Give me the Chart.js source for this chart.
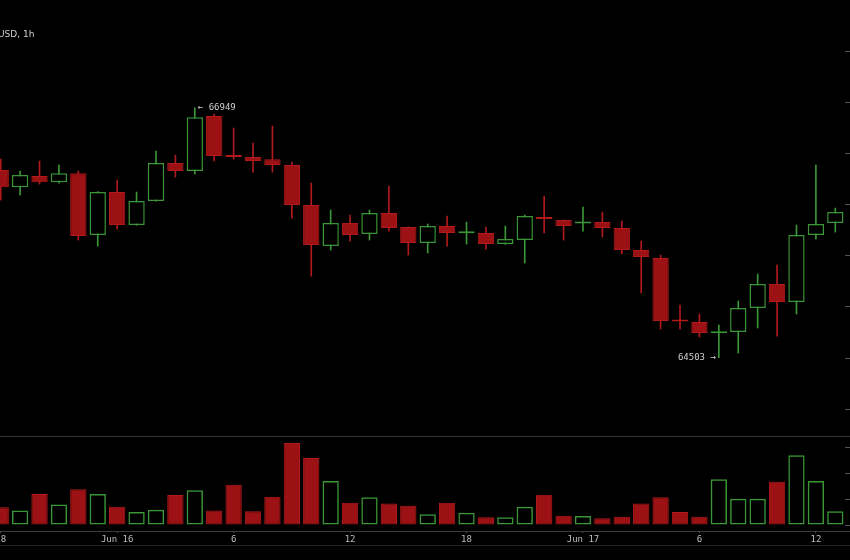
<!DOCTYPE html>
<html>
<head>
<meta charset="utf-8">
<script src="https://cdn.jsdelivr.net/npm/chart.js@4.4.1/dist/chart.umd.min.js"></script>
<style>
  html, body { margin: 0; padding: 0; background: #000; }
  #wrap { position: relative; width: 850px; height: 560px; overflow: hidden; background: #000; }
  #priceBox { position: absolute; left: -9px; top: 0; width: 910px; height: 436px; }
  #volBox { position: absolute; left: -9px; top: 436px; width: 910px; height: 124px; }
  #title { position: absolute; left: -2px; top: 29px; font: 9px/10px "DejaVu Sans", sans-serif; color: #cfcfcf; }
</style>
</head>
<body>
<div id="wrap">
  <div id="priceBox"><canvas id="priceChart"></canvas></div>
  <div id="volBox"><canvas id="volChart"></canvas></div>
  <div id="title">USD, 1h</div>
</div>
<script>
// hourly candles, Jun 15 18:00 -> Jun 17 13:00
const times = [
  'Jun 15 18:00', 'Jun 15 19:00', 'Jun 15 20:00', 'Jun 15 21:00', 'Jun 15 22:00', 'Jun 15 23:00',
  'Jun 16 00:00', 'Jun 16 01:00', 'Jun 16 02:00', 'Jun 16 03:00', 'Jun 16 04:00', 'Jun 16 05:00',
  'Jun 16 06:00', 'Jun 16 07:00', 'Jun 16 08:00', 'Jun 16 09:00', 'Jun 16 10:00', 'Jun 16 11:00',
  'Jun 16 12:00', 'Jun 16 13:00', 'Jun 16 14:00', 'Jun 16 15:00', 'Jun 16 16:00', 'Jun 16 17:00',
  'Jun 16 18:00', 'Jun 16 19:00', 'Jun 16 20:00', 'Jun 16 21:00', 'Jun 16 22:00', 'Jun 16 23:00',
  'Jun 17 00:00', 'Jun 17 01:00', 'Jun 17 02:00', 'Jun 17 03:00', 'Jun 17 04:00', 'Jun 17 05:00',
  'Jun 17 06:00', 'Jun 17 07:00', 'Jun 17 08:00', 'Jun 17 09:00', 'Jun 17 10:00', 'Jun 17 11:00',
  'Jun 17 12:00', 'Jun 17 13:00'
];

const open = [66339, 66172, 66280, 66221, 66309, 65703, 66124, 65801, 66036, 66407, 66329, 66867, 66479, 66466, 66446, 66388, 65996, 65595, 65820, 65713, 65918, 65781, 65625, 65791, 65720, 65723, 65615, 65654, 65879, 65850, 65817, 65830, 65772, 65556, 65478, 64862, 64852, 64742, 64754, 64989, 65224, 65048, 65703, 65820];
const high = [66446, 66329, 66427, 66388, 66329, 66128, 66241, 66124, 66525, 66485, 66949, 66886, 66750, 66603, 66769, 66417, 66212, 65948, 65899, 65948, 66182, 65784, 65811, 65889, 65830, 65781, 65791, 65899, 66084, 65852, 65977, 65928, 65840, 65644, 65507, 65018, 64930, 64823, 65057, 65322, 65410, 65801, 66388, 65967];
const low = [66045, 66094, 66202, 66212, 65654, 65595, 65762, 65798, 66034, 66270, 66300, 66427, 66446, 66319, 66319, 65869, 65302, 65556, 65644, 65654, 65742, 65507, 65527, 65595, 65615, 65566, 65612, 65429, 65723, 65654, 65742, 65683, 65517, 65136, 64784, 64784, 64705, 64503, 64549, 64794, 64715, 64930, 65664, 65732];
const close = [66172, 66290, 66221, 66309, 65693, 66124, 65801, 66036, 66407, 66329, 66857, 66476, 66466, 66427, 66388, 65996, 65605, 65820, 65703, 65918, 65772, 65625, 65791, 65723, 65727, 65615, 65664, 65889, 65860, 65791, 65825, 65772, 65556, 65488, 64862, 64857, 64745, 64748, 64989, 65224, 65048, 65703, 65811, 65928];
const volume = [69, 57, 121, 80, 139, 121, 71, 51, 60, 117, 135, 57, 157, 54, 110, 319, 261, 171, 87, 108, 84, 75, 42, 87, 48, 30, 30, 71, 118, 36, 35, 27, 32, 84, 108, 51, 32, 178, 102, 102, 168, 271, 171, 54];

const tickLabels = {
  'Jun 15 18:00': '18', 'Jun 16 00:00': 'Jun 16', 'Jun 16 06:00': '6', 'Jun 16 12:00': '12',
  'Jun 16 18:00': '18', 'Jun 17 00:00': 'Jun 17', 'Jun 17 06:00': '6', 'Jun 17 12:00': '12'
};
const priceTicks = [64000, 64500, 65000, 65500, 66000, 66500, 67000, 67500];
const volumeTicks = [0, 100, 200, 300];

const UP = '#3a9636';
const DOWN_FILL = '#9c1214';
const DOWN_LINE = '#b01a1c';
const isUp = close.map((c, i) => c > open[i]);

// high / low markers
const extremes = {
    id: 'extremes',
    afterDatasetsDraw(chart) {
        const ctx = chart.ctx;
        const x = chart.scales.x, y = chart.scales.y;
        const hi = high.indexOf(Math.max(...high));
        const lo = low.indexOf(Math.min(...low));
        ctx.save();
        ctx.font = '9px "DejaVu Sans Mono"';
        ctx.fillStyle = '#cfcfcf';
        ctx.textBaseline = 'middle';
        ctx.textAlign = 'left';
        ctx.fillText('\u2190 ' + high[hi], x.getPixelForValue(hi) + 3, y.getPixelForValue(high[hi]));
        ctx.textAlign = 'right';
        ctx.fillText(low[lo] + ' \u2192', x.getPixelForValue(lo) - 3, y.getPixelForValue(low[lo]));
        ctx.restore();
    }
};

// separator + axis lines across the whole panel
const panelLines = {
    id: 'panelLines',
    afterDraw(chart) {
        const {ctx, width, chartArea} = chart;
        const xs = chart.scales.x;
        ctx.save();
        ctx.lineWidth = 1;
        [[chartArea.top + 0.5, '#333'], [xs.top + 0.5, '#3a3a3a'], [xs.bottom + 0.5, '#222']].forEach(([yy, c]) => {
            ctx.strokeStyle = c;
            ctx.beginPath();
            ctx.moveTo(0, yy);
            ctx.lineTo(width, yy);
            ctx.stroke();
        });
        ctx.restore();
    }
};

const rightAxis = (min, max, values) => ({
    position: 'right',
    min: min,
    max: max,
    afterBuildTicks: s => { s.ticks = values.map(v => ({ value: v })); },
    afterFit: s => { s.width = 56; },
    ticks: { display: false },
    grid: { drawOnChartArea: false, tickLength: 5, color: '#555' },
    border: { display: false }
});

new Chart(document.getElementById('priceChart'), {
    type: 'bar',
    data: {
        labels: times,
        datasets: [{
            label: 'body',
            data: open.map((o, i) => [o, close[i]]),
            grouped: false,
            categoryPercentage: 1,
            barPercentage: 0.84,
            minBarLength: 2,
            borderSkipped: false,
            backgroundColor: isUp.map(u => u ? '#000' : DOWN_FILL),
            borderColor: isUp.map(u => u ? UP : DOWN_LINE),
            borderWidth: isUp.map(u => u ? 1.5 : 1),
            order: 0
        }, {
            label: 'wick',
            data: low.map((l, i) => [l, high[i]]),
            grouped: false,
            barThickness: 1,
            borderWidth: 0,
            backgroundColor: isUp.map(u => u ? UP : DOWN_LINE),
            order: 1
        }]
    },
    options: {
        responsive: true,
        maintainAspectRatio: false,
        animation: false,
        events: [],
        plugins: {
            legend: { display: false },
            tooltip: { enabled: false }
        },
        scales: {
            x: { display: false, offset: true },
            y: rightAxis(63737, 68003, priceTicks)
        }
    },
    plugins: [extremes]
});

new Chart(document.getElementById('volChart'), {
    type: 'bar',
    data: {
        labels: times,
        datasets: [{
            data: volume,
            categoryPercentage: 1,
            barPercentage: 0.84,
            borderSkipped: false,
            backgroundColor: isUp.map(u => u ? 'rgba(0,0,0,0)' : DOWN_FILL),
            borderColor: isUp.map(u => u ? UP : DOWN_LINE),
            borderWidth: isUp.map(u => u ? 1.5 : 1)
        }]
    },
    options: {
        responsive: true,
        maintainAspectRatio: false,
        animation: false,
        events: [],
        layout: { padding: { bottom: 15 } },
        plugins: {
            legend: { display: false },
            tooltip: { enabled: false }
        },
        scales: {
            x: {
                offset: true,
                afterFit: s => { s.height = 14; },
                ticks: {
                    autoSkip: false,
                    maxRotation: 0,
                    padding: 1,
                    color: '#bdbdbd',
                    font: { family: 'DejaVu Sans Mono', size: 9 },
                    callback: (v, i) => tickLabels[times[i]] || ''
                },
                grid: {
                    offset: false,
                    drawOnChartArea: false,
                    tickLength: 2,
                    color: c => tickLabels[times[c.index]] ? '#555' : 'rgba(0,0,0,0)'
                },
                border: { display: false }
            },
            y: rightAxis(-23, 346, volumeTicks)
        }
    },
    plugins: [panelLines]
});
</script>
</body>
</html>
